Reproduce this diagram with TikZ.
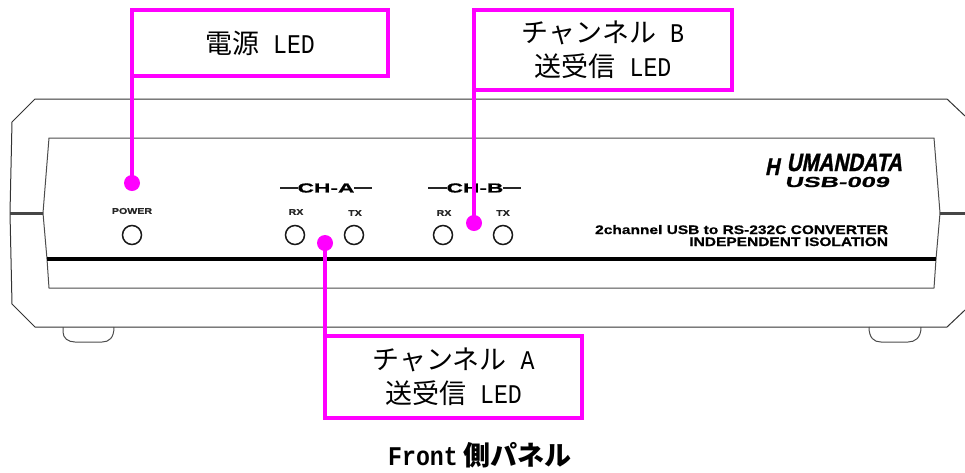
\documentclass[tikz,border=0pt]{standalone}
\usepackage{fontspec}
\setmainfont[FakeStretch=0.86]{Liberation Mono}
\newfontfamily\cjk{Noto Sans CJK JP}
\newfontfamily\wide[FakeStretch=1.25,FakeBold=0.6]{Liberation Sans}
\newfontfamily\widest[FakeStretch=1.75,FakeBold=1]{Liberation Sans}
\newfontfamily\logo[FakeSlant=0.2,FakeStretch=0.82,FakeBold=1.2]{Liberation Sans}
\newfontfamily\logowide[FakeSlant=0.2,FakeStretch=1.75,FakeBold=1]{Liberation Sans}
\newcommand{\jp}[1]{{\cjk #1}}
\begin{document}
\begin{tikzpicture}[x=1pt, y=-1pt, every node/.style={inner sep=0pt, outer sep=0pt}]
    % Styles
    \definecolor{callout}{RGB}{255,0,255}
    \definecolor{seam}{RGB}{70,70,70}
    \tikzstyle{label} = [rectangle, draw=callout, line width=4.5pt, fill=white, align=center, font=\fontsize{27}{34}\selectfont]
    \tikzstyle{dot} = [circle, fill=callout, minimum size=16pt]
    \tikzstyle{wire} = [draw=callout, line width=4.5pt]
    \tikzstyle{led} = [circle, draw=black!90, line width=1.5pt, minimum size=19pt]
    \tikzstyle{small} = [font=\wide\bfseries\fontsize{8.5}{9}\selectfont, text=black!85]
    \tikzstyle{channel} = [font=\widest\bfseries\fontsize{13}{13}\selectfont, text=black]
    \tikzstyle{product} = [font=\wide\bfseries\fontsize{12.4}{13}\selectfont, anchor=base east]
    \tikzstyle{rule} = [line width=1.5pt, draw=black!85]
    \tikzstyle{outline} = [draw=black!70, line width=1pt, line join=round]
    \useasboundingbox (0,0) rectangle (965,472);

    % Case
    \draw [outline, draw=black!80] (965,116) -- (947,99) -- (35,99) -- (12,122) -- (10,213)
        -- (12,304) -- (35,327) -- (947,327) -- (965,310);
    \draw [outline] (63,327) -- (63,332) .. controls (63,338) and (68,342) .. (75,342) -- (102,342)
        .. controls (109,342) and (114,338) .. (114,327);
    \draw [outline] (869,327) .. controls (869,338) and (874,342) .. (881,342) -- (908,342)
        .. controls (915,342) and (921,338) .. (921,327);
    \draw [outline] (47,259) -- (49,288) -- (934,288) -- (936,259);
    \draw [outline] (47,259) -- (43,213) -- (49,138) -- (934,138) -- (940,213) -- (936,259);
    \draw [draw=seam, line width=3pt] (10,213) -- (43,213);
    \draw [draw=seam, line width=3pt] (940,213) -- (965,213);
    \draw [draw=black, line width=3.5pt] (47,259) -- (936,259);

    % Panel
    \node (power) [small] at (132,211) {POWER};
    \node (ledpower) [led] at (132,235) {};
    \node (cha) [channel] at (326,188) {CH-A};
    \node (chb) [channel] at (475,188) {CH-B};
    \coordinate (chal) at (280,188);
    \coordinate (char) at (372,188);
    \coordinate (chbl) at (428,188);
    \coordinate (chbr) at (521,188);
    \draw [rule] (chal) -- (cha);
    \draw [rule] (cha) -- (char);
    \draw [rule] (chbl) -- (chb);
    \draw [rule] (chb) -- (chbr);
    \node (rxa) [small] at (296,212) {RX};
    \node (txa) [small] at (355,213) {TX};
    \node (rxb) [small] at (444,213) {RX};
    \node (txb) [small] at (503,213) {TX};
    \node (ledrxa) [led] at (295,235) {};
    \node (ledtxa) [led] at (354,235) {};
    \node (ledrxb) [led] at (443,235) {};
    \node (ledtxb) [led] at (503,235) {};

    % Logo and product text
    \node (brandh) [font=\logo\bfseries\fontsize{24}{24}\selectfont, anchor=base west] at (765,175) {H};
    \node (brand) [font=\logo\bfseries\fontsize{25}{25}\selectfont, anchor=base east] at (902,171) {UMANDATA};
    \node (model) [font=\logowide\bfseries\fontsize{14.5}{15}\selectfont, anchor=base east] at (889,187) {USB-009};
    \node (desca) [product] at (888,234) {2channel USB to RS-232C CONVERTER};
    \node (descb) [product] at (888,246) {INDEPENDENT ISOLATION};

    % Callouts
    \node (dotpower) [dot] at (132,183) {};
    \node (dotb) [dot] at (474,223) {};
    \node (dota) [dot] at (325,243) {};
    \draw [wire] (dotpower.center) -- (132,76);
    \draw [wire] (dotb.center) -- (474,90);
    \draw [wire] (dota.center) -- (325,336);
    \node (boxpower) [label, minimum width=256pt, minimum height=66pt] at (260,43) {\jp{電源} LED};
    \node (boxb) [label, minimum width=258pt, minimum height=80pt] at (603,50) {\jp{チャンネル} B\\\jp{送受信} LED};
    \node (boxa) [label, minimum width=257pt, minimum height=82pt] at (453.5,377) {\jp{チャンネル} A\\\jp{送受信} LED};

    % Caption
    \node (caption) [font=\bfseries\fontsize{27}{30}\selectfont] at (480,455) {Front\hspace{6pt}{\cjk\bfseries 側パネル}};
\end{tikzpicture}
\end{document}
